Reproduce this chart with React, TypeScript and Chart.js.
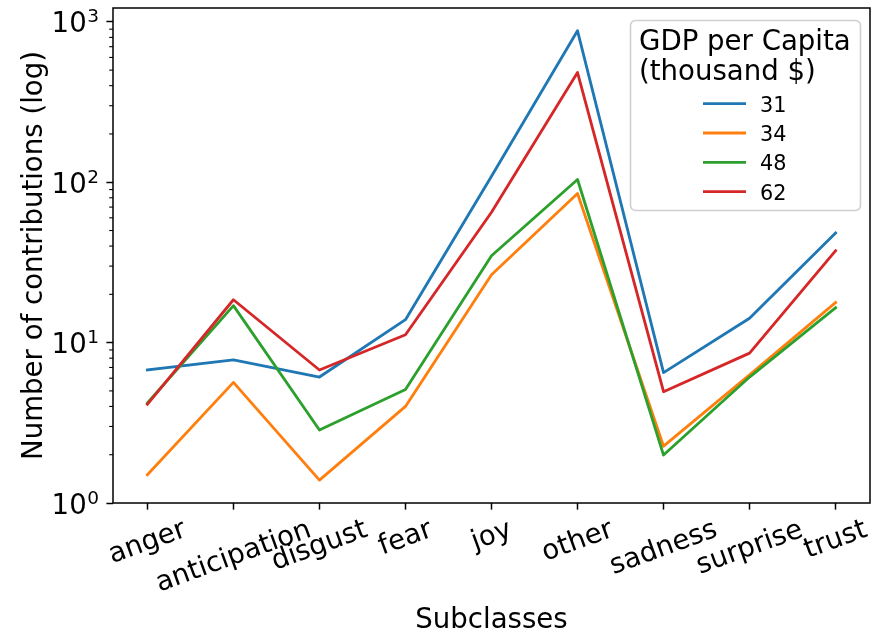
import React, { useEffect, useRef } from 'react';
import { Chart, registerables } from 'chart.js';

Chart.register(...registerables);

const categories = ['anger', 'anticipation', 'disgust', 'fear', 'joy', 'other', 'sadness', 'surprise', 'trust'];
const seriesLabels = ['31', '34', '48', '62'];
const gdp31 = [6.75, 7.8, 6.1, 13.9, 109, 879, 6.5, 14.2, 48.3];
const gdp34 = [1.5, 5.65, 1.39, 4.0, 26.5, 85, 2.26, 6.3, 17.8];
const gdp48 = [4.2, 17.0, 2.85, 5.1, 34.8, 104, 1.99, 6.1, 16.5];
const gdp62 = [4.12, 18.5, 6.75, 11.2, 65, 483, 4.94, 8.6, 37.4];
const seriesValues = [gdp31, gdp34, gdp48, gdp62];
const seriesColors = ['#1f77b4', '#ff7f0e', '#2ca02c', '#d62728'];
const yTickValues = [1, 10, 100, 1000];
const yTickBase = '10';
const yTickExponents = ['0', '1', '2', '3'];
const legendTitle = ['GDP per Capita', '(thousand $)'];
const xTitle = 'Subclasses';
const yTitle = 'Number of contributions (log)';

const FONT = "'DejaVu Sans', sans-serif";
const BIG = 27.6;
const SUP = 18.5;
const SMALL = 20.8;

const decor = {
  id: 'decor',
  afterDraw(chart: any) {
    const ctx: CanvasRenderingContext2D = chart.ctx;
    const { left, right, top, bottom } = chart.chartArea;
    const xs = chart.scales.x;
    const ys = chart.scales.y;
    ctx.save();
    // minor ticks on log axis
    ctx.strokeStyle = '#000';
    ctx.lineWidth = 1.1;
    for (let d = 1; d <= 1000; d *= 10) {
      for (let k = 2; k <= 9; k++) {
        const v = d * k;
        if (v > ys.max) continue;
        const y = ys.getPixelForValue(v);
        ctx.beginPath();
        ctx.moveTo(left, y);
        ctx.lineTo(left - 3.8, y);
        ctx.stroke();
      }
    }
    // frame
    ctx.lineWidth = 1.5;
    ctx.strokeRect(left, top, right - left, bottom - top);

    ctx.fillStyle = '#000';
    ctx.textBaseline = 'alphabetic';

    // y tick labels: 10 with superscript exponent
    const labelRight = left - 14;
    yTickValues.forEach((v, i) => {
      const y = ys.getPixelForValue(v);
      const base = y + 10.6;
      ctx.font = `${SUP}px ${FONT}`;
      const ew = ctx.measureText(yTickExponents[i]).width;
      ctx.textAlign = 'right';
      ctx.fillText(yTickExponents[i], labelRight, base - 10);
      ctx.font = `${BIG}px ${FONT}`;
      ctx.fillText(yTickBase, labelRight - ew - 0.5, base);
    });

    // x tick labels (rotated, centered like matplotlib)
    ctx.font = `${BIG}px ${FONT}`;
    const th = (20 * Math.PI) / 180;
    const h = 0.97 * BIG;
    const dsc = 0.21 * BIG;
    categories.forEach((c, i) => {
      const x = xs.getPixelForValue(i);
      const w = ctx.measureText(c).width;
      const H = w * Math.sin(th) + h * Math.cos(th);
      const cy = bottom + 13.2 + H / 2;
      ctx.save();
      ctx.translate(x, cy);
      ctx.rotate(-th);
      ctx.textAlign = 'center';
      ctx.fillText(c, 0, h / 2 - dsc);
      ctx.restore();
    });

    // axis titles
    ctx.textAlign = 'center';
    ctx.fillText(xTitle, (left + right) / 2, 628);
    ctx.save();
    ctx.translate(41.5, (top + bottom) / 2);
    ctx.rotate(-Math.PI / 2);
    ctx.fillText(yTitle, 0, 0);
    ctx.restore();

    // legend
    const lx = 630.5, ly = 20.5, lw = 230, lh = 190;
    ctx.beginPath();
    (ctx as any).roundRect(lx, ly, lw, lh, 5);
    ctx.fillStyle = 'rgba(255,255,255,0.8)';
    ctx.fill();
    ctx.strokeStyle = '#cfcfcf';
    ctx.lineWidth = 1.6;
    ctx.stroke();
    ctx.fillStyle = '#000';
    ctx.textAlign = 'left';
    ctx.font = `${BIG}px ${FONT}`;
    legendTitle.forEach((t, i) => ctx.fillText(t, 639, 49.5 + i * 30.5));
    ctx.font = `${SMALL}px ${FONT}`;
    seriesLabels.forEach((s, i) => {
      const by = 111.7 + i * 29.3;
      ctx.strokeStyle = seriesColors[i];
      ctx.lineWidth = 2.83;
      ctx.beginPath();
      ctx.moveTo(703, by - 8);
      ctx.lineTo(746, by - 8);
      ctx.stroke();
      ctx.fillText(s, 760, by);
    });
    ctx.restore();
  },
};

export default function App() {
  const ref = useRef<HTMLCanvasElement | null>(null);
  useEffect(() => {
    if (!ref.current) return;
    const gridOpts = {
      drawOnChartArea: false,
      drawTicks: true,
      tickLength: 6.6,
      tickWidth: 1.5,
      tickColor: '#000',
    };
    const chart = new Chart(ref.current, {
      type: 'line',
      data: {
        datasets: seriesValues.map((vals, si) => ({
          label: seriesLabels[si],
          data: vals.map((v, i) => ({ x: i, y: v })),
          borderColor: seriesColors[si],
          backgroundColor: seriesColors[si],
          borderWidth: 2.83,
          pointRadius: 0,
          tension: 0,
          fill: false,
          borderJoinStyle: 'round' as const,
          borderCapStyle: 'square' as const,
          order: seriesValues.length - si,
        })),
      },
      options: {
        animation: false,
        responsive: false,
        layout: { padding: { top: 8, right: 1, left: 0, bottom: 0 } },
        plugins: { legend: { display: false }, tooltip: { enabled: false } },
        scales: {
          x: {
            type: 'linear',
            min: -0.4,
            max: 8.4,
            afterBuildTicks: (s: any) => {
              s.ticks = categories.map((_, i) => ({ value: i }));
            },
            afterFit: (s: any) => {
              s.height = 134;
              s.paddingLeft = 0;
              s.paddingRight = 0;
              s.paddingTop = 0;
              s.paddingBottom = 0;
            },
            ticks: { display: false },
            grid: gridOpts,
            border: { display: false },
          },
          y: {
            type: 'logarithmic',
            min: 1,
            max: 1220,
            afterBuildTicks: (s: any) => {
              s.ticks = yTickValues.map((v) => ({ value: v, major: true }));
            },
            afterFit: (s: any) => {
              s.width = 113;
              s.paddingLeft = 0;
              s.paddingRight = 0;
              s.paddingTop = 0;
              s.paddingBottom = 0;
            },
            ticks: { display: false },
            grid: gridOpts,
            border: { display: false },
          },
        },
      },
      plugins: [decor],
    } as any);
    return () => chart.destroy();
  }, []);
  return (
    <div style={{ position: 'fixed', left: 0, top: 0, width: 871, height: 637, background: '#fff' }}>
      <canvas ref={ref} width={871} height={637} style={{ display: 'block', width: 871, height: 637 }} />
    </div>
  );
}
